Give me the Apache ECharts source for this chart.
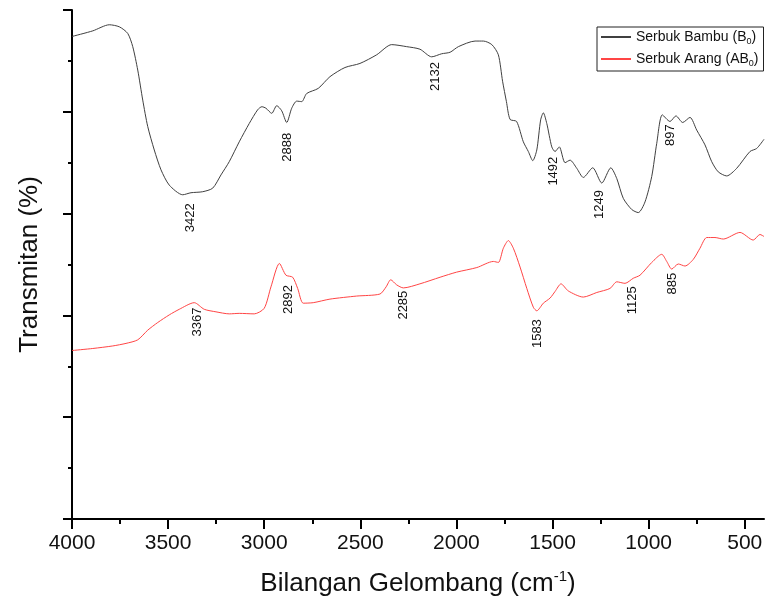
<!DOCTYPE html>
<html>
<head>
<meta charset="utf-8">
<script src="https://cdn.jsdelivr.net/npm/echarts@6/dist/echarts.min.js"></script>
<style>
html,body{margin:0;padding:0;background:#fff;}
#chart{width:766px;height:605px;}
</style>
</head>
<body>
<div id="chart"></div>
<script>
// ---- Data ----
const bambuWn = [4000,3892,3806,3754,3710,3684,3658,3632,3606,3572,3537,3494,3424,3381,3320,3268,3225,3182,3130,3078,3034,3012,2991,2961,2935,2909,2883,2857,2831,2805,2779,2719,2658,2580,2502,2415,2337,2259,2190,2129,2077,2033,1990,1903,1860,1816,1782,1760,1740,1721,1687,1652,1626,1603,1582,1562,1548,1530,1504,1487,1465,1435,1409,1374,1340,1291,1244,1197,1166,1132,1088,1054,1019,984,958,929,889,858,823,785,750,707,672,638,594,542,473,438,400];
const bambuT = [94.8,95.9,97.1,96.7,95.4,92.8,88.2,82.3,77.1,72.5,68.6,65.6,63.7,64.1,64.3,65.0,67.6,70.2,74.1,77.7,80.4,81.0,80.7,79.7,81.2,80.2,77.9,80.7,82.1,82.0,83.6,84.6,86.9,88.7,89.5,91.2,93.2,92.8,92.3,90.8,91.4,91.7,92.8,93.9,93.9,93.2,91.2,86.0,82.0,78.5,78.1,74.1,72.2,70.4,72.5,78.4,79.8,77.7,73.1,72.2,73.1,70.0,70.5,68.9,67.1,69.0,66.0,69.0,66.9,63.0,60.8,60.2,62.3,67.3,73.8,79.4,78.1,79.2,77.9,78.9,76.4,73.5,70.2,68.2,67.4,68.9,72.2,72.8,74.6];

const arangWn = [4000,3892,3788,3719,3658,3606,3554,3494,3442,3364,3312,3251,3182,3130,3052,3000,2965,2921,2887,2852,2826,2797,2745,2658,2519,2398,2366,2342,2311,2276,2190,2085,1999,1894,1808,1782,1756,1730,1704,1669,1634,1600,1582,1548,1513,1487,1456,1418,1340,1270,1201,1166,1123,1080,1045,984,932,906,880,846,811,768,733,698,655,612,525,456,421,400];
const arangT = [33.1,33.5,34.0,34.5,35.2,37.1,38.6,40.1,41.2,42.5,41.2,40.7,40.3,40.4,40.3,41.4,45.6,50.2,47.9,47.5,45.3,42.4,42.5,43.2,43.8,44.2,45.6,47.0,46.0,45.4,46.2,47.5,48.5,49.4,50.6,50.4,53.2,54.7,53.2,49.5,45.3,41.6,40.9,42.4,43.4,44.7,46.2,44.8,43.6,44.5,45.3,46.6,46.3,47.3,47.9,50.4,52.0,50.6,49.1,50.1,49.7,51.0,53.2,55.3,55.3,55.0,56.3,54.8,55.9,55.5];

const bambuPeaks = [3422,2888,2132,1492,1249,897];
const arangPeaks = [3367,2892,2285,1583,1125,885];

const xMajorTicks = [4000,3500,3000,2500,2000,1500,1000,500];
const xMinorTicks = [3750,3250,2750,2250,1750,1250,750];

const seriesNames = ['Serbuk Bambu (B0)', 'Serbuk Arang (AB0)'];

// ---- styling / helpers ----
const FONT = 'Liberation Sans, Arial, sans-serif';
// label offsets in px (centre of rotated text relative to curve point)
const bambuOff = [[7,23],[2,27],[4,20],[-1,21],[-1,23],[2,15]];
const arangOff = [[4,19],[3,26],[2,18],[1,23],[8,17],[2,16]];

function valueAt(wns, vals, w) {
  for (let i = 0; i < wns.length - 1; i++) {
    const a = wns[i], b = wns[i+1];
    if ((w <= a && w >= b)) {
      const t = (a - w) / (a - b);
      return vals[i] + (vals[i+1] - vals[i]) * t;
    }
  }
  return vals[vals.length-1];
}
function pairs(xs, ys){ return xs.map((x,i)=>[x, ys[i]]); }
function labelData(peaks, wns, vals, offs){
  return peaks.map((p,i)=>[p, valueAt(wns, vals, p), String(p), offs[i][0], offs[i][1]]);
}

const chart = echarts.init(document.getElementById('chart'), null, {renderer:'canvas'});

const bData = labelData(bambuPeaks, bambuWn, bambuT, bambuOff);
const aData = labelData(arangPeaks, arangWn, arangT, arangOff);

function labelRender(params, api){
  const p = api.coord([api.value(0), api.value(1)]);
  const src = params.seriesName === 'lblB' ? bData : aData;
  const item = src[params.dataIndex];
  return {
    type: 'text',
    x: p[0] + item[3],
    y: p[1] + item[4],
    rotation: Math.PI/2,
    style: {
      text: item[2],
      fontSize: 13,
      fontFamily: FONT,
      fill: '#111',
      align: 'center',
      verticalAlign: 'middle'
    }
  };
}

const option = {
  backgroundColor: '#fff',
  animation: false,
  grid: {left: 72, right: 2, top: 10, bottom: 86, containLabel: false},
  legend: {
    data: seriesNames,
    orient: 'vertical',
    left: 597, top: 27,
    itemWidth: 30, itemHeight: 14, itemGap: 6,
    padding: [3, 5, 3, 3],
    borderColor: '#222', borderWidth: 1, borderRadius: 0,
    itemStyle: {opacity: 0},
    textStyle: {
      fontFamily: FONT, fontSize: 14, color: '#111',
      rich: {
        n: {fontFamily: FONT, fontSize: 14, color: '#111', lineHeight: 18, verticalAlign: 'middle'},
        s: {fontFamily: FONT, fontSize: 9, color: '#111', lineHeight: 9, verticalAlign: 'bottom'}
      }
    },
    formatter: function(name){
      if (name === seriesNames[0]) return '{n|Serbuk Bambu (B}{s|0}{n|)}';
      return '{n|Serbuk Arang (AB}{s|0}{n|)}';
    }
  },
  xAxis: [{
    type: 'value', inverse: true, min: 400, max: 4000,
    name: '{n|Bilangan Gelombang (cm}{p|-1}{n|)}',
    nameLocation: 'middle', nameGap: 50,
    nameTextStyle: {
      fontFamily: FONT, fontSize: 26, color: '#111',
      rich: {
        n: {fontFamily: FONT, fontSize: 26, color: '#111', lineHeight: 30, verticalAlign: 'middle'},
        p: {fontFamily: FONT, fontSize: 15, color: '#111', lineHeight: 16, verticalAlign: 'top'}
      }
    },
    splitLine: {show: false},
    axisLine: {show: true, onZero: false, lineStyle: {color: '#000', width: 2}},
    axisTick: {show: true, length: 10, lineStyle: {color: '#000', width: 2}, customValues: xMajorTicks},
    axisLabel: {show: true, margin: 14, fontFamily: FONT, fontSize: 21, color: '#111',
      customValues: xMajorTicks, formatter: function(v){ return String(v); }},
    minorTick: {show: false}
  }, {
    type: 'value', inverse: true, min: 400, max: 4000, position: 'bottom',
    splitLine: {show: false},
    axisLine: {show: false},
    axisTick: {show: true, length: 5, lineStyle: {color: '#000', width: 2}, customValues: xMinorTicks},
    axisLabel: {show: false}
  }],
  yAxis: {
    type: 'value', min: 0, max: 100, interval: 20,
    name: 'Transmitan (%)', nameLocation: 'middle', nameGap: 29,
    nameTextStyle: {fontFamily: FONT, fontSize: 26, color: '#111'},
    splitLine: {show: false},
    axisLine: {show: true, lineStyle: {color: '#000', width: 2}},
    axisTick: {show: true, length: 9, lineStyle: {color: '#000', width: 2}},
    minorTick: {show: true, splitNumber: 2, length: 4, lineStyle: {color: '#000', width: 2}},
    axisLabel: {show: false}
  },
  series: [
    {
      name: seriesNames[0], type: 'line', data: pairs(bambuWn, bambuT),
      symbol: 'none', smooth: 0.25, color: '#404040',
      lineStyle: {color: '#404040', width: 1}, z: 3
    },
    {
      name: seriesNames[1], type: 'line', data: pairs(arangWn, arangT),
      symbol: 'none', smooth: 0.25, color: '#ff4545',
      lineStyle: {color: '#ff4545', width: 1}, z: 3
    },
    {
      name: 'lblB', type: 'custom', data: bData, renderItem: labelRender,
      encode: {x: 0, y: 1}, clip: false, z: 4, silent: true
    },
    {
      name: 'lblA', type: 'custom', data: aData, renderItem: labelRender,
      encode: {x: 0, y: 1}, clip: false, z: 4, silent: true
    }
  ]
};
chart.setOption(option);
</script>
</body>
</html>
